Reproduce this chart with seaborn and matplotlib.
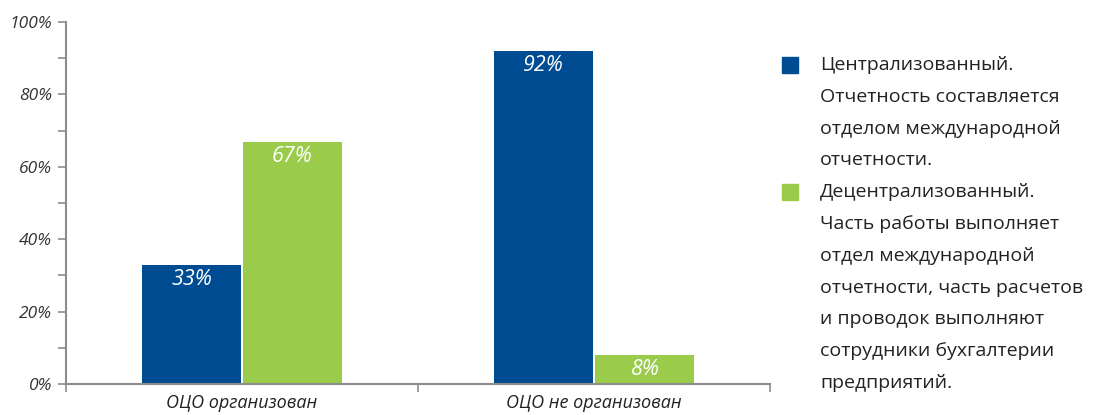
import matplotlib
matplotlib.use("Agg")
import matplotlib.pyplot as plt
import seaborn as sns
import pandas as pd
from matplotlib.patches import Rectangle

categories = ["ОЦО организован", "ОЦО не организован"]
series = ["Централизованный", "Децентрализованный"]
centralized = [33, 92]
decentralized = [67, 8]
colors = ["#004C93", "#9BCB4B"]
legend_lines = [
    ["Централизованный.", "Отчетность составляется", "отделом международной", "отчетности."],
    ["Децентрализованный.", "Часть работы выполняет", "отдел международной",
     "отчетности, часть расчетов", "и проводок выполняют", "сотрудники бухгалтерии", "предприятий."],
]
yticks = [0, 20, 40, 60, 80, 100]

df = pd.DataFrame({
    "cat": categories * 2,
    "series": [series[0]] * 2 + [series[1]] * 2,
    "value": centralized + decentralized,
})

sns.set_theme(style="white")
plt.rcParams["font.family"] = ["Open Sans", "DejaVu Sans"]

fig = plt.figure(figsize=(10.93, 4.15), dpi=100)
ax = fig.add_axes([0.0604, 0.0747, 0.644, 0.872])

sns.barplot(data=df, x="cat", y="value", hue="series", order=categories,
            hue_order=series, palette=colors, width=0.572, gap=0.02,
            saturation=1, ax=ax, legend=False, edgecolor="none")

ax.set_xlim(-0.5, 1.5)
ax.set_ylim(0, 100)
ax.set_yticks(yticks)
ax.set_yticklabels([f"{t}%" for t in yticks], fontstyle="italic", fontsize=12.5, color="#333333")
ax.set_yticks(range(0, 101, 10), minor=True)
ax.set_xticks([0, 1])
ax.set_xticklabels(categories, fontstyle="italic", fontsize=13, color="#222222")
ax.set_xticks([-0.5, 0.5, 1.5], minor=True)
ax.set_xlabel("")
ax.set_ylabel("")

for s in ["top", "right"]:
    ax.spines[s].set_visible(False)
for s in ["left", "bottom"]:
    ax.spines[s].set_color("#8c8c8c")
    ax.spines[s].set_linewidth(1.5)

ax.tick_params(axis="y", which="both", direction="out", length=6, width=1.2,
               color="#8c8c8c", left=True, pad=4)
ax.tick_params(axis="x", which="major", length=0, pad=7)
ax.tick_params(axis="x", which="minor", direction="out", length=6, width=1.2,
               color="#8c8c8c", bottom=True)

for container in ax.containers:
    for bar in container:
        h = bar.get_height()
        ax.text(bar.get_x() + bar.get_width() / 2, h - 4.0, f"{h:.0f}%",
                ha="center", va="center", color="white", fontsize=15.5,
                fontstyle="italic")

# legend
W, H = 1093, 415
line_h = 31.8
y0 = 65
idx = 0
for si, lines in enumerate(legend_lines):
    yy = y0 + idx * line_h
    fig.patches.append(Rectangle((782 / W, 1 - (yy + 8) / H), 16 / W, 16 / H,
                                 transform=fig.transFigure, color=colors[si]))
    for ln in lines:
        yy = y0 + idx * line_h
        fig.text(820 / W, 1 - yy / H, ln, ha="left", va="center",
                 fontsize=14, color="#222222")
        idx += 1

fig.savefig("out.png", dpi=100)
